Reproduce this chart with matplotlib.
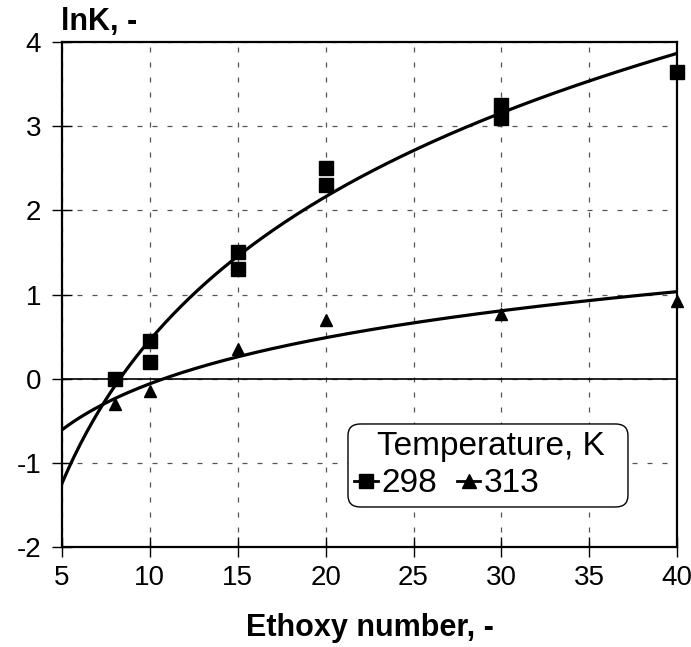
import numpy as np
import matplotlib.pyplot as plt
from matplotlib.patches import FancyBboxPatch

plt.rcParams['font.family'] = ['Liberation Sans', 'DejaVu Sans']
plt.rcParams['axes.unicode_minus'] = False

# Measured lnK values vs ethoxy number
ethoxy_298 = [8, 10, 10, 15, 15, 20, 20, 30, 30, 40]
lnk_298 = [0.0, 0.45, 0.2, 1.5, 1.3, 2.5, 2.3, 3.25, 3.1, 3.65]

ethoxy_313 = [8, 10, 15, 20, 30, 40]
lnk_313 = [-0.3, -0.15, 0.35, 0.7, 0.77, 0.92]

temps = ['298', '313']

fig = plt.figure(figsize=(6.91, 6.47), dpi=100)
ax = fig.add_axes([0.0897, 0.1546, 0.8903, 0.7804])

# logarithmic trend lines
xx = np.linspace(5, 40, 300)
for xs, ys in [(ethoxy_298, lnk_298), (ethoxy_313, lnk_313)]:
    a, b = np.polyfit(np.log(xs), ys, 1)
    ax.plot(xx, a * np.log(xx) + b, color='black', lw=2.3, zorder=3)

ax.plot(ethoxy_298, lnk_298, ls='none', marker='s', ms=10, color='black',
        zorder=4, clip_on=False)
ax.plot(ethoxy_313, lnk_313, ls='none', marker='^', ms=9, color='black',
        zorder=4, clip_on=False)

ax.axhline(0, color='black', lw=1.2, zorder=2)

ax.set_xlim(5, 40)
ax.set_ylim(-2, 4)
ax.set_xticks(range(5, 41, 5))
ax.set_yticks(range(-2, 5, 1))
ax.grid(True, color='#555555', ls=(0, (4, 8)), lw=0.9)
ax.tick_params(direction='inout', length=14, width=1, labelsize=20)
ax.tick_params(axis='y', pad=8)
ax.tick_params(axis='x', pad=6)
for s in ax.spines.values():
    s.set_linewidth(1.6)

ax.set_xlabel('Ethoxy number, -', fontsize=22, fontweight='bold', labelpad=16)
fig.text(0.088, 0.943, 'lnK, -', fontsize=22, fontweight='bold', ha='left', va='bottom')

# legend: rounded box, centred title, entries on one row
box = FancyBboxPatch((0.5036, 0.2164), 0.4052, 0.1283,
                     boxstyle='round,pad=0,rounding_size=0.018',
                     transform=fig.transFigure, facecolor='white',
                     edgecolor='black', lw=1.0, zorder=5)
fig.patches.append(box)
fig.text(0.7106, 0.2968, 'Temperature, K', fontsize=24, ha='center',
         va='baseline', zorder=6)

h1, = ax.plot([], [], color='black', lw=2, marker='s', ms=10)
h2, = ax.plot([], [], color='black', lw=2, marker='^', ms=10)
leg = fig.legend([h1, h2], temps, ncol=2, loc='center left',
                 bbox_to_anchor=(0.513, 0.252), fontsize=24, frameon=False,
                 handlelength=0.7, handletextpad=0.1, columnspacing=0.6,
                 borderpad=0, borderaxespad=0)
leg.set_zorder(7)

fig.savefig('out.png', dpi=100)
